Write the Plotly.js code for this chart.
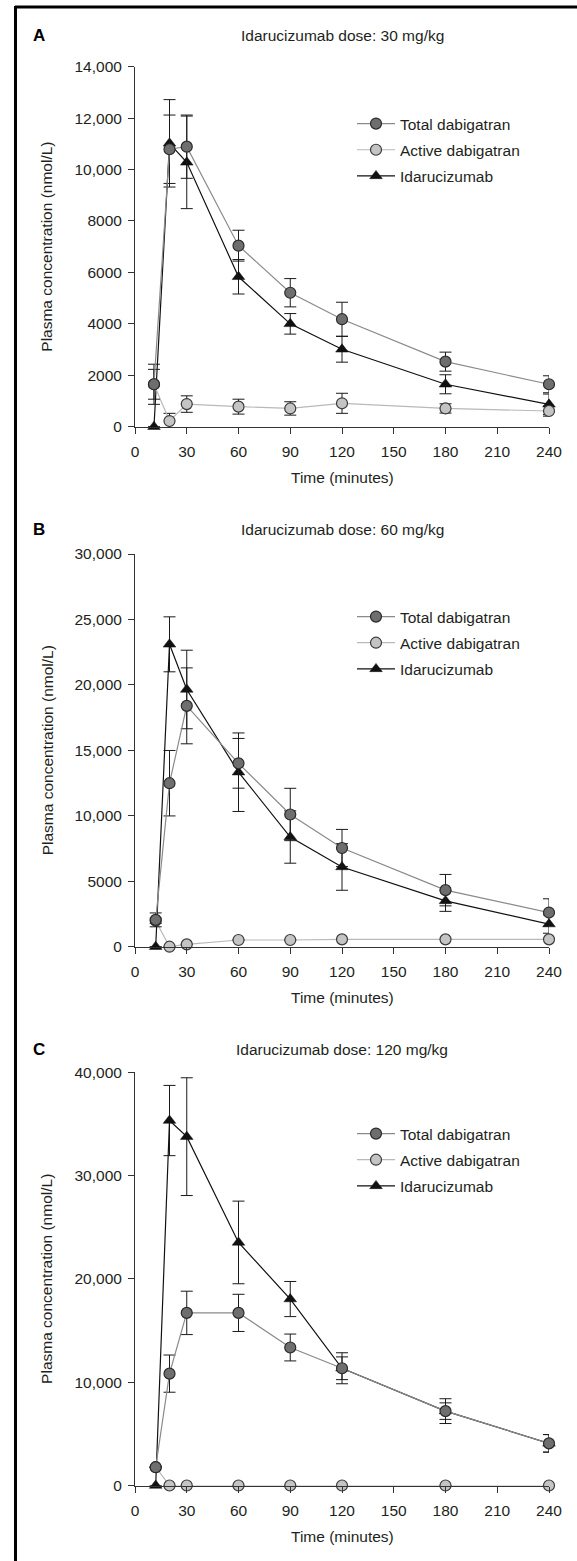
<!DOCTYPE html>
<html>
<head>
<meta charset="utf-8">
<script src="https://cdn.plot.ly/plotly-3.0.1.min.js"></script>
<style>
html,body{margin:0;padding:0;background:#fff;}
#chart{width:577px;height:1561px;}
</style>
</head>
<body>
<div id="chart"></div>
<script>
// ---------- DATA ----------
const seriesNames = ["Total dabigatran", "Active dabigatran", "Idarucizumab"];
const panelLetters = ["A", "B", "C"];
const panelTitles = ["Idarucizumab dose: 30 mg/kg", "Idarucizumab dose: 60 mg/kg", "Idarucizumab dose: 120 mg/kg"];
const xTicks = [0, 30, 60, 90, 120, 150, 180, 210, 240];

// Panel A (30 mg/kg)
const tA = [11, 20, 30, 60, 90, 120, 180, 240];
const totalA = [1650, 10790, 10890, 7040, 5210, 4180, 2530, 1650];
const totalAErr = [580, 1330, 1230, 600, 550, 660, 370, 330];
const activeA = [1650, 220, 880, 780, 710, 910, 710, 610];
const activeAErr = [780, 300, 320, 290, 260, 390, 180, 200];
const idaA = [0, 11020, 10280, 5830, 4000, 3010, 1650, 870];
const idaAErr = [0, 1700, 1800, 670, 400, 500, 370, 400];
const yTicksA = [0, 2000, 4000, 6000, 8000, 10000, 12000, 14000];
const yTextA = ["0", "2000", "4000", "6000", "8000", "10,000", "12,000", "14,000"];

// Panel B (60 mg/kg)
const tB = [12, 20, 30, 60, 90, 120, 180, 240];
const totalB = [2050, 12490, 18400, 14010, 10100, 7540, 4320, 2610];
const totalBErr = [530, 2500, 2900, 1900, 2000, 1420, 1200, 1050];
const activeB = [1980, 0, 180, 510, 510, 560, 560, 560];
const activeBErr = [200, 0, 0, 0, 0, 0, 0, 0];
const idaB = [0, 23100, 19650, 13330, 8380, 6090, 3500, 1730];
const idaBErr = [0, 2100, 3000, 3000, 2000, 1780, 800, 700];
const yTicksB = [0, 5000, 10000, 15000, 20000, 25000, 30000];
const yTextB = ["0", "5000", "10,000", "15,000", "20,000", "25,000", "30,000"];

// Panel C (120 mg/kg)
const tC = [12, 20, 30, 60, 90, 120, 180, 240];
const totalC = [1770, 10830, 16710, 16710, 13360, 11350, 7200, 4080];
const totalCErr = [0, 1800, 2100, 1800, 1300, 1100, 800, 850];
const activeC = [1770, 0, 0, 0, 0, 0, 0, 0];
const activeCErr = [0, 0, 0, 0, 0, 0, 0, 0];
const idaC = [0, 35330, 33770, 23530, 18050, 11350, 7200, 4080];
const idaCErr = [0, 3400, 5700, 4000, 1700, 1500, 1200, 850];
const yTicksC = [0, 10000, 20000, 30000, 40000];
const yTextC = ["0", "10,000", "20,000", "30,000", "40,000"];

// ---------- STYLE / LAYOUT ----------
const W = 577, H = 1561;
const FONT = "'Liberation Sans Narrow', 'Arial Narrow', 'Liberation Sans', Arial, sans-serif";
const TXT = "#231f20";
const FS = 15.5;
const px = x => x / W;
const py = y => 1 - y / H;

const plotLeft = 135, plotRight = 549;
const panels = [
  {t: tA, total: totalA, totalErr: totalAErr, active: activeA, activeErr: activeAErr, ida: idaA, idaErr: idaAErr,
   yTicks: yTicksA, yText: yTextA, top: 66.7, bottom: 426.7, head: 36, legTop: 107},
  {t: tB, total: totalB, totalErr: totalBErr, active: activeB, activeErr: activeBErr, ida: idaB, idaErr: idaBErr,
   yTicks: yTicksB, yText: yTextB, top: 554, bottom: 946.7, head: 529, legTop: 600},
  {t: tC, total: totalC, totalErr: totalCErr, active: activeC, activeErr: activeCErr, ida: idaC, idaErr: idaCErr,
   yTicks: yTicksC, yText: yTextC, top: 1072.3, bottom: 1485.5, head: 1049, legTop: 1117}
];

const styles = [
  {line: {color: "#8a8a8a", width: 1.2}, marker: {symbol: "circle", size: 11, color: "#6e6e6e", line: {color: "#2a2a2a", width: 1.2}}},
  {line: {color: "#b9b9b9", width: 1.2}, marker: {symbol: "circle", size: 11, color: "#c4c4c4", line: {color: "#3a3a3a", width: 1.2}}},
  {line: {color: "#111111", width: 1.2}, marker: {symbol: "triangle-up", size: 11, color: "#111111", line: {color: "#111111", width: 0.5}}}
];

const traces = [];
const layout = {
  width: W, height: H,
  margin: {l: 0, r: 0, t: 0, b: 0},
  paper_bgcolor: "#ffffff", plot_bgcolor: "rgba(0,0,0,0)",
  font: {family: FONT, size: FS, color: TXT},
  showlegend: true,
  annotations: [],
  shapes: [
    {type: "line", xref: "paper", yref: "paper", x0: px(15), x1: px(577), y0: py(7), y1: py(7), line: {color: "#000", width: 3}},
    {type: "line", xref: "paper", yref: "paper", x0: px(15.5), x1: px(15.5), y0: py(6), y1: py(1561), line: {color: "#000", width: 3}}
  ]
};

panels.forEach((p, i) => {
  const xa = i === 0 ? "x" : "x" + (i + 1);
  const ya = i === 0 ? "y" : "y" + (i + 1);
  const legName = i === 0 ? "legend" : "legend" + (i + 1);
  const ys = [p.total, p.active, p.ida];
  const errs = [p.totalErr, p.activeErr, p.idaErr];
  // draw order: idarucizumab, active, total (total on top); legend ranks keep order
  [2, 1, 0].forEach(s => {
    traces.push({
      type: "scatter", mode: "lines+markers",
      x: p.t, y: ys[s], name: seriesNames[s],
      xaxis: xa, yaxis: ya, legend: legName,
      legendgroup: "g" + i + "_" + s, legendrank: s + 1,
      line: styles[s].line, marker: styles[s].marker,
      error_y: {type: "data", array: errs[s], visible: true, color: "#1a1a1a", thickness: 1, width: 6},
      cliponaxis: false, hoverinfo: "skip"
    });
  });
  const xKey = i === 0 ? "xaxis" : "xaxis" + (i + 1);
  const yKey = i === 0 ? "yaxis" : "yaxis" + (i + 1);
  layout[xKey] = {
    domain: [px(plotLeft), px(plotRight)], anchor: ya,
    range: [0, 240], tickvals: xTicks, ticktext: xTicks.map(String),
    showgrid: false, zeroline: false, showline: true, linecolor: "#333", linewidth: 1,
    ticks: "outside", ticklen: 6, tickcolor: "#333", tickwidth: 1,
    tickfont: {family: FONT, size: FS, color: TXT}, ticklabelstandoff: 5,
    fixedrange: true
  };
  layout[yKey] = {
    domain: [py(p.bottom), py(p.top)], anchor: xa,
    range: [0, p.yTicks[p.yTicks.length - 1]], tickvals: p.yTicks, ticktext: p.yText,
    showgrid: false, zeroline: false, showline: true, linecolor: "#333", linewidth: 1,
    ticks: "outside", ticklen: 6, tickcolor: "#333", tickwidth: 1,
    tickfont: {family: FONT, size: FS, color: TXT}, ticklabelstandoff: 3,
    fixedrange: true
  };
  layout[legName] = {
    x: px(352), y: py(p.legTop), xanchor: "left", yanchor: "top",
    bgcolor: "rgba(0,0,0,0)", borderwidth: 0, itemwidth: 38,
    font: {family: FONT, size: FS, color: TXT},
    traceorder: "grouped", tracegroupgap: 3, itemclick: false, itemdoubleclick: false
  };
  // panel letter
  layout.annotations.push({xref: "paper", yref: "paper", x: px(31), y: py(p.head), xanchor: "left", yanchor: "middle",
    text: "<b>" + panelLetters[i] + "</b>", showarrow: false, font: {family: FONT, size: 17, color: "#000"}});
  // panel title
  layout.annotations.push({xref: "paper", yref: "paper", x: px((plotLeft + plotRight) / 2), y: py(p.head), xanchor: "center", yanchor: "middle",
    text: panelTitles[i], showarrow: false, font: {family: FONT, size: FS, color: TXT}});
  // y axis title
  layout.annotations.push({xref: "paper", yref: "paper", x: px(47), y: py((p.top + p.bottom) / 2), xanchor: "center", yanchor: "middle",
    text: "Plasma concentration (nmol/L)", textangle: -90, showarrow: false, font: {family: FONT, size: FS, color: TXT}});
  // x axis title
  layout.annotations.push({xref: "paper", yref: "paper", x: px((plotLeft + plotRight) / 2), y: py(p.bottom + 51), xanchor: "center", yanchor: "middle",
    text: "Time (minutes)", showarrow: false, font: {family: FONT, size: FS, color: TXT}});
});

Plotly.newPlot("chart", traces, layout, {displayModeBar: false, staticPlot: true});
</script>
</body>
</html>
